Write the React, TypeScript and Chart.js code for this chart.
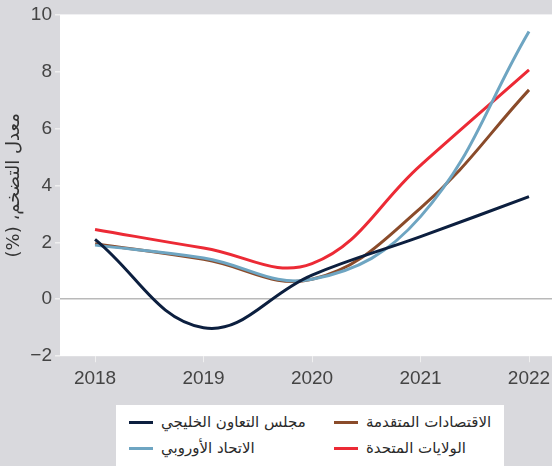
import React, { useEffect, useRef } from "react";
import { Chart, registerables } from "chart.js";

Chart.register(...registerables);

const years = [2018, 2019, 2020, 2021, 2022];
const gcc = [2.1, -1.0, 0.85, 2.2, 3.6];
const advanced = [1.95, 1.4, 0.7, 3.2, 7.35];
const eu = [1.9, 1.45, 0.7, 2.9, 9.4];
const us = [2.45, 1.8, 1.25, 4.7, 8.05];
const yTicks = [-2, 0, 2, 4, 6, 8, 10];

const seriesNames = [
  "مجلس التعاون الخليجي",
  "الاقتصادات المتقدمة",
  "الاتحاد الأوروبي",
  "الولايات المتحدة",
];
const colors = ["#0c1f3f", "#8a4b2a", "#6ea5c2", "#ec2a35"];
const seriesData = [gcc, advanced, eu, us];
const yTitle = "معدل التضخم، (%)";

const BG = "#d9d9dd";

const plotBg = {
  id: "plotBg",
  beforeDraw(chart: any) {
    const { ctx, chartArea } = chart;
    ctx.save();
    ctx.fillStyle = "#ffffff";
    ctx.fillRect(chartArea.left, chartArea.top, chartArea.right - chartArea.left, chartArea.bottom - chartArea.top);
    ctx.restore();
  },
};

export default function App() {
  const ref = useRef<HTMLCanvasElement>(null);
  useEffect(() => {
    document.body.style.margin = "0";
    document.body.style.background = BG;
    const order = [0, 2, 1, 3];
    const chart = new Chart(ref.current!, {
      type: "line",
      data: {
        datasets: order.map((i) => ({
          label: seriesNames[i],
          data: years.map((y, k) => ({ x: y, y: seriesData[i][k] })),
          borderColor: colors[i],
          backgroundColor: colors[i],
          borderWidth: 3,
          pointRadius: 0,
          tension: 0.4,
          fill: false,
        })),
      },
      plugins: [plotBg],
      options: {
        animation: false,
        responsive: false,
        maintainAspectRatio: false,
        layout: { padding: { left: 0, right: 0, top: 14, bottom: 71 } },
        plugins: {
          legend: { display: false },
          tooltip: { enabled: false },
        },
        scales: {
          x: {
            type: "linear",
            min: 2017.677,
            max: 2022.212,
            afterBuildTicks: (s: any) => {
              s.ticks = years.map((v) => ({ value: v }));
            },
            afterFit: (s: any) => {
              s.paddingLeft = 0;
              s.paddingRight = 0;
            },
            ticks: {
              callback: (v: any) => String(v),
              color: "#444444",
              font: { family: "Liberation Sans, Arial, sans-serif", size: 19 },
              padding: 5,
              maxRotation: 0,
              autoSkip: false,
            },
            grid: {
              drawOnChartArea: false,
              drawTicks: true,
              tickLength: 6,
              tickColor: "#f0f0f0",
              lineWidth: 1,
            },
            border: { display: false },
          },
          y: {
            min: -2,
            max: 10,
            afterBuildTicks: (s: any) => {
              s.ticks = yTicks.map((v) => ({ value: v }));
            },
            afterFit: (s: any) => {
              s.width = 60;
            },
            ticks: {
              callback: (v: any) => String(v).replace("-", "\u2212"),
              color: "#444444",
              font: { family: "Liberation Sans, Arial, sans-serif", size: 19 },
              padding: 3,
            },
            grid: {
              color: (c: any) => (c.tick && c.tick.value === 0 ? "#b9b9b9" : "rgba(0,0,0,0)"),
              lineWidth: 1.5,
              tickLength: 5,
              tickColor: "#f0f0f0",
            },
            border: { display: false },
            title: {
              display: true,
              text: "\u202B" + yTitle + "\u202C",
              color: "#333333",
              font: { family: "DejaVu Sans, sans-serif", size: 18 },
              padding: { top: 4, bottom: 0 },
            },
          },
        },
      },
    } as any);
    return () => chart.destroy();
  }, []);

  const legendItems = [0, 1, 2, 3];
  return (
    <div style={{ position: "relative", width: 552, height: 466, overflow: "hidden", background: BG }}>
      <canvas ref={ref} width={552} height={466} style={{ display: "block" }} />
      <div
        style={{
          position: "absolute",
          left: 116,
          top: 405,
          width: 388,
          height: 70,
          background: "#ffffff",
          display: "grid",
          gridTemplateColumns: "205px 170px",
          gridAutoRows: "26px",
          paddingTop: 4,
          paddingLeft: 13,
          boxSizing: "border-box",
          fontFamily: "DejaVu Sans, sans-serif",
          fontSize: 15,
          color: "#2a2a2a",
        }}
      >
        {legendItems.map((i) => (
          <div key={i} style={{ display: "flex", alignItems: "center" }}>
            <span style={{ display: "inline-block", width: 24, height: 3, background: colors[i], marginRight: 8 }} />
            <span>{seriesNames[i]}</span>
          </div>
        ))}
      </div>
    </div>
  );
}
